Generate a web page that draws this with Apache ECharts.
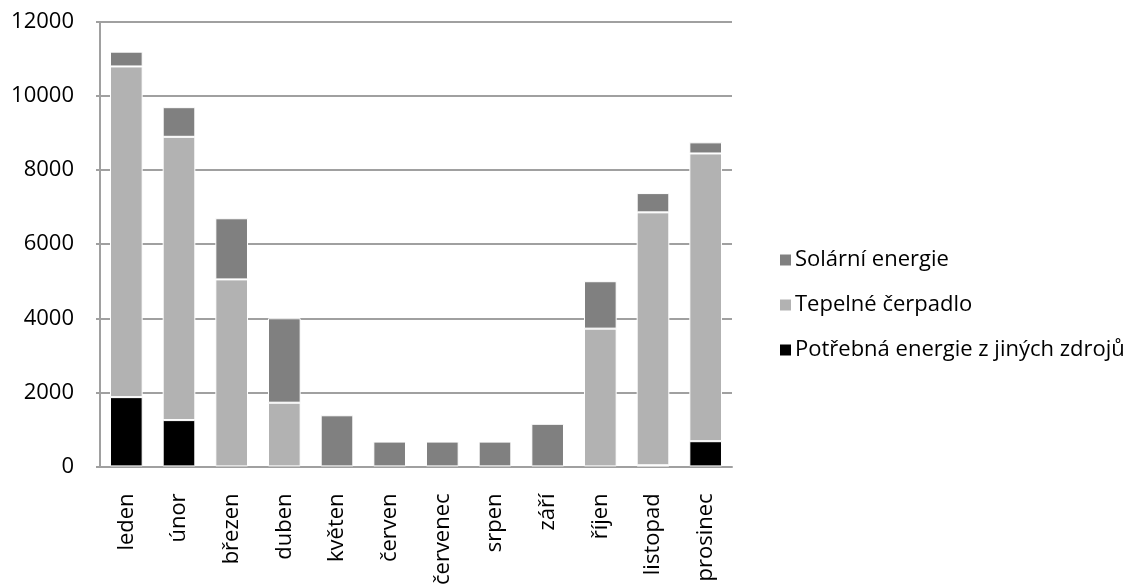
<!DOCTYPE html>
<html>
<head>
<meta charset="utf-8">
<script src="https://cdn.jsdelivr.net/npm/echarts@6/dist/echarts.min.js"></script>
<style>
  html, body { margin: 0; padding: 0; background: #fff; }
  #chart { width: 1136px; height: 588px; }
</style>
</head>
<body>
<div id="chart"></div>
<script>
// Monthly energy balance (kWh), stacked by source
const months = ['leden', 'únor', 'březen', 'duben', 'květen', 'červen', 'červenec', 'srpen', 'září', 'říjen', 'listopad', 'prosinec'];
const otherSources = [1870, 1250, 0, 0, 0, 0, 0, 0, 0, 0, 30, 680];
const heatPump = [8930, 7650, 5050, 1720, 0, 0, 0, 0, 0, 3720, 6830, 7770];
const solar = [400, 800, 1650, 2280, 1380, 670, 670, 670, 1150, 1280, 520, 300];
const yTicks = [0, 2000, 4000, 6000, 8000, 10000, 12000];

const FONT = '"Open Sans", "DejaVu Sans", sans-serif';
const border = { borderColor: '#ffffff', borderWidth: 1 };
// empty segments are skipped so they leave no border sliver on the axis
const skipZero = arr => arr.map(v => (v === 0 ? '-' : v));

const chart = echarts.init(document.getElementById('chart'), null, { renderer: 'canvas' });
chart.setOption({
  animation: false,
  backgroundColor: '#ffffff',
  grid: { left: 100, right: 404, top: 22, bottom: 121, containLabel: false },
  legend: {
    orient: 'vertical',
    left: 773,
    top: 244,
    itemWidth: 13,
    itemHeight: 13,
    itemGap: 23,
    icon: 'rect',
    data: ['Solární energie', 'Tepelné čerpadlo', 'Potřebná energie z jiných zdrojů'],
    textStyle: { fontFamily: FONT, fontSize: 22, color: '#000000', padding: [0, 0, 0, -2] }
  },
  xAxis: {
    type: 'category',
    data: months,
    axisLine: { lineStyle: { color: '#a0a0a0', width: 2 } },
    axisTick: { show: false },
    axisLabel: {
      rotate: 90,
      margin: 27,
      interval: 0,
      fontFamily: FONT,
      fontSize: 22,
      color: '#000000'
    }
  },
  yAxis: {
    type: 'value',
    min: yTicks[0],
    max: yTicks[yTicks.length - 1],
    interval: 2000,
    axisLine: { show: true, lineStyle: { color: '#a0a0a0', width: 2 } },
    axisTick: { show: true, length: 4, lineStyle: { color: '#a0a0a0', width: 2 } },
    splitLine: { lineStyle: { color: '#a0a0a0', width: 2 } },
    axisLabel: {
      margin: 26,
      fontFamily: FONT,
      fontSize: 22,
      color: '#000000',
      formatter: v => String(v)
    }
  },
  series: [
    {
      name: 'Potřebná energie z jiných zdrojů',
      type: 'bar',
      stack: 'energie',
      barWidth: '62%',
      data: skipZero(otherSources),
      itemStyle: Object.assign({ color: '#000000' }, border)
    },
    {
      name: 'Tepelné čerpadlo',
      type: 'bar',
      stack: 'energie',
      data: skipZero(heatPump),
      itemStyle: Object.assign({ color: '#b2b2b2' }, border)
    },
    {
      name: 'Solární energie',
      type: 'bar',
      stack: 'energie',
      data: skipZero(solar),
      itemStyle: Object.assign({ color: '#808080' }, border)
    }
  ]
});
</script>
</body>
</html>
